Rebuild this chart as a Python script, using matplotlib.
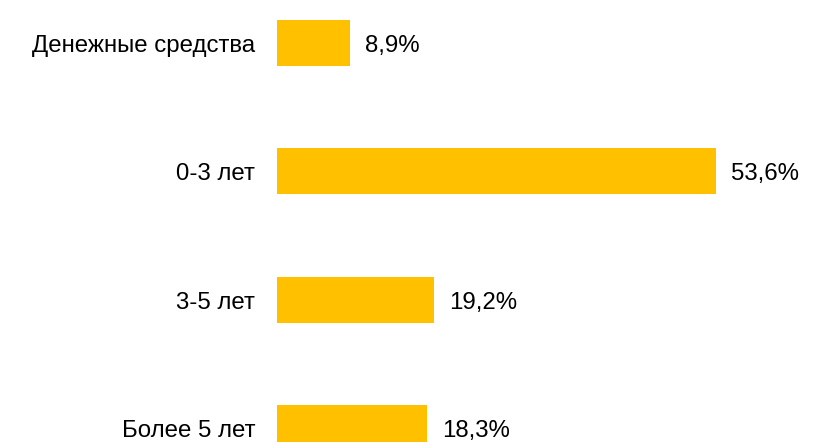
import numpy as np
import matplotlib.pyplot as plt
from matplotlib.transforms import offset_copy

plt.rcParams['font.family'] = ['Liberation Sans', 'DejaVu Sans']

categories = ["Денежные средства", "0-3 лет", "3-5 лет", "Более 5 лет"]
values = [8.9, 53.6, 19.2, 18.3]
value_labels = ["8,9%", "53,6%", "19,2%", "18,3%"]

W, H = 821, 442
fig = plt.figure(figsize=(W / 100, H / 100), dpi=100)
ax = fig.add_axes([277 / W, 0, 1 - 277 / W, 1])

px_per_unit = 8.19  # pixels per percent
ax.set_xlim(0, (W - 277) / px_per_unit)
step = 128.33
ax.set_ylim((H - 43) / step, -43 / step)

y = np.arange(len(categories))
ax.barh(y, values, height=0.36, color="#FFC000")

val_tr = offset_copy(ax.transData, fig=fig, x=15, y=-3, units='dots')
lab_tr = offset_copy(ax.transData, fig=fig, x=-22, y=-3, units='dots')
for yi, v, lbl, cat in zip(y, values, value_labels, categories):
    ax.text(v, yi, lbl, transform=val_tr, va='center', ha='left', fontsize=17.3, color='black')
    ax.text(0, yi, cat, transform=lab_tr, va='center', ha='right', fontsize=17.3, color='black', clip_on=False)

ax.axis('off')
fig.savefig("out.png", dpi=100)
